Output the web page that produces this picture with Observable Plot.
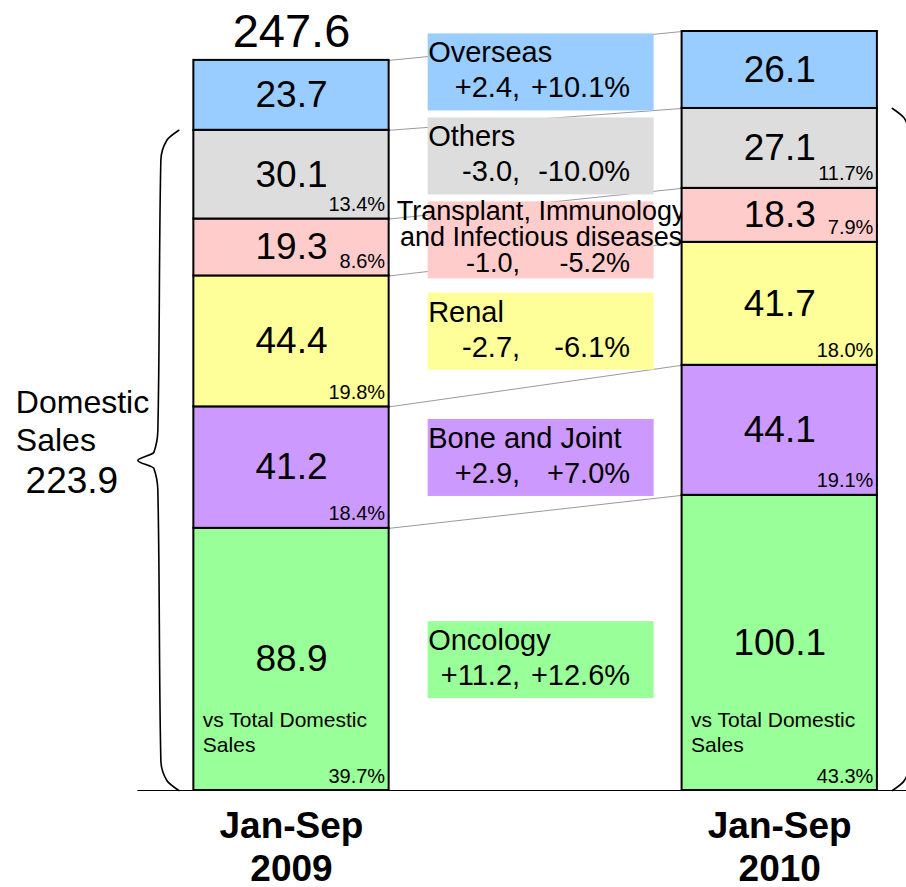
<!DOCTYPE html>
<html><head><meta charset="utf-8">
<script src="https://cdn.jsdelivr.net/npm/d3@7"></script>
<script src="https://cdn.jsdelivr.net/npm/@observablehq/plot@0.6"></script>
<style>
html,body{margin:0;padding:0;background:#fff;overflow:hidden;}
svg text{white-space:pre;}
</style></head><body><div id="chart"></div>
<script>
// ---------- data ----------
const periods = ["Jan-Sep\n2009", "Jan-Sep\n2010"];
const categories = ["Oncology", "Bone and Joint", "Renal",
  "Transplant, Immunology\nand Infectious diseases", "Others", "Overseas"];
const sales2009 = [88.9, 41.2, 44.4, 19.3, 30.1, 23.7];
const sales2010 = [100.1, 44.1, 41.7, 18.3, 27.1, 26.1];
const share2009 = [39.7, 18.4, 19.8, 8.6, 13.4, null];
const share2010 = [43.3, 19.1, 18.0, 7.9, 11.7, null];
const changeAbs = [11.2, 2.9, -2.7, -1.0, -3.0, 2.4];
const changePct = [12.6, 7.0, -6.1, -5.2, -10.0, 10.1];
const totalLabel2009 = 247.6;
const domestic2009 = 223.9;
const domesticText = "Domestic\nSales";
const noteText = "vs Total Domestic\nSales";

// ---------- styles / layout ----------
const colors = ["#99FF99", "#CC99FF", "#FFFF99", "#FFCCCC", "#DDDDDD", "#99CCFF"];
const W = 906, H = 887;
const XR = [291, 779.25];
const YR = [790, 31];
const series = [sales2009, sales2010];
const shares = [share2009, share2010];
const totals = series.map(s => d3.sum(s));
const domestic = series.map(s => d3.sum(s.slice(0, 5)));
const yMax = d3.max(totals);
const PXX = XR[1] - XR[0];
const PXY = (YR[0] - YR[1]) / yMax;
const HALF = 0.2;
const fmt1 = v => v.toFixed(1);
const signed = v => (v > 0 ? "+" : "-") + Math.abs(v).toFixed(1);

// stacked segments
const segs = [];
const cums = [];
series.forEach((vals, p) => {
  let acc = 0; const c = [0];
  vals.forEach((v, i) => {
    segs.push({p, i, value: v, y1: acc, y2: acc + v, share: shares[p][i],
      x1: p - HALF, x2: p + HALF, fill: colors[i]});
    acc += v; c.push(acc);
  });
  cums.push(c);
});

// connector lines between the bars
const links = d3.range(1, categories.length + 1).map(k => ({
  x1: HALF, x2: 1 - HALF, y1: cums[0][k], y2: cums[1][k]}));

// annotation boxes between the bars
const BOX_L = HALF + 39 / PXX, BOX_R = 1 - HALF - 28 / PXX;
const BOX_H = 77 / PXY, BOX_S = 84 / PXY, BOX_SHIFT = 9 / PXY;
const centers = categories.map((_, i) => {
  const m0 = (cums[0][i] + cums[0][i + 1]) / 2;
  const m1 = (cums[1][i] + cums[1][i + 1]) / 2;
  return (m0 + m1) / 2 - BOX_SHIFT;
});
for (let i = 1; i < centers.length; i++) centers[i] = Math.max(centers[i], centers[i - 1] + BOX_S);
const boxes = categories.map((name, i) => ({
  name, i, cy: centers[i], x1: BOX_L, x2: BOX_R,
  y1: centers[i] - BOX_H / 2, y2: centers[i] + BOX_H / 2, fill: colors[i],
  multi: name.includes("\n"),
  abs: signed(changeAbs[i]) + ",", pct: signed(changePct[i]) + "%"}));
const simpleBoxes = boxes.filter(b => !b.multi);
const multiBoxes = boxes.filter(b => b.multi);

// braces for domestic sales
function brace(p) {
  const side = p === 0 ? -1 : 1;
  const x0 = p + side * HALF + side * 15 / PXX;
  const top = domestic[p], mid = domestic[p] / 2;
  const pts = [[0, top, 0], [12, top, 10], [18, top, 30], [21, mid, -30], [25, mid, -8],
    [41, mid, 0], [25, mid, 8], [21, mid, 30], [18, 0, -30], [12, 0, -10], [0, 0, 0]];
  return pts.map(([u, base, dpx]) => ({p, x: x0 + side * u / PXX, y: base - dpx / PXY}));
}
const braces = [...brace(0), ...brace(1)];
const tipX = -HALF - (15 + 41) / PXX;

const fontFamily = "'Liberation Sans', Arial, Helvetica, sans-serif";

const chart = Plot.plot({
  width: W, height: H, margin: 0,
  x: {type: "linear", domain: [0, 1], range: XR, axis: null},
  y: {domain: [0, yMax], range: YR, axis: null},
  style: {fontFamily, background: "white", overflow: "hidden"},
  marks: [
    Plot.link(links, {x1: "x1", y1: "y1", x2: "x2", y2: "y2", stroke: "#9a9a9a", strokeWidth: 1}),
    Plot.rect(boxes, {x1: "x1", x2: "x2", y1: "y1", y2: "y2", fill: "fill"}),
    Plot.text(simpleBoxes, {x: "x1", y: "cy", text: "name", textAnchor: "start", lineAnchor: "bottom", dy: -10, fontSize: 29}),
    Plot.text(simpleBoxes, {x: d => d.x2 - 134 / PXX, y: "cy", text: "abs", textAnchor: "end", lineAnchor: "bottom", dy: 25, fontSize: 29}),
    Plot.text(simpleBoxes, {x: d => d.x2 - 24 / PXX, y: "cy", text: "pct", textAnchor: "end", lineAnchor: "bottom", dy: 25, fontSize: 29}),
    Plot.text(multiBoxes, {x: d => (d.x1 + d.x2) / 2, y: "cy", text: "name", textAnchor: "middle", lineAnchor: "bottom", dy: 6, lineHeight: 26 / 27, fontSize: 27}),
    Plot.text(multiBoxes, {x: d => d.x2 - 134 / PXX, y: "cy", text: "abs", textAnchor: "end", lineAnchor: "bottom", dy: 32, fontSize: 27}),
    Plot.text(multiBoxes, {x: d => d.x2 - 24 / PXX, y: "cy", text: "pct", textAnchor: "end", lineAnchor: "bottom", dy: 32, fontSize: 27}),
    Plot.rect(segs, {x1: "x1", x2: "x2", y1: "y1", y2: "y2", fill: "fill", stroke: "black", strokeWidth: 2}),
    Plot.text(segs, {x: "p", y: d => (d.y1 + d.y2) / 2, text: d => fmt1(d.value), fontSize: 37, lineAnchor: "middle"}),
    Plot.text(segs.filter(d => d.share != null), {x: d => d.x2 - 4 / PXX, y: "y1", text: d => fmt1(d.share) + "%", textAnchor: "end", lineAnchor: "bottom", dy: -8, fontSize: 20}),
    Plot.text(segs.filter(d => d.i === 0), {x: d => d.x1 + 9 / PXX, y: "y1", text: () => noteText, textAnchor: "start", lineAnchor: "bottom", dy: -39, lineHeight: 25 / 21, fontSize: 21}),
    Plot.text([totalLabel2009], {x: 0, y: d => d, text: d => fmt1(d), lineAnchor: "bottom", dy: -13, fontSize: 47}),
    Plot.ruleY([0], {x1: tipX, x2: (W - XR[0]) / PXX + 0.1, stroke: "black", strokeWidth: 1.2}),
    Plot.line(braces, {x: "x", y: "y", z: "p", curve: "monotone-y", stroke: "black", strokeWidth: 1.6}),
    Plot.text([domesticText], {x: tipX - 122 / PXX, y: domestic[0] / 2, text: d => d, textAnchor: "start", lineAnchor: "bottom", dy: -9, lineHeight: 38 / 32, fontSize: 32}),
    Plot.text([domestic2009], {x: tipX - 66 / PXX, y: domestic[0] / 2, text: d => fmt1(d), textAnchor: "middle", lineAnchor: "bottom", dy: 33, fontSize: 37}),
    Plot.text(periods, {x: (d, i) => i, y: () => 0, text: d => d, lineAnchor: "bottom", dy: 90, lineHeight: 43 / 37, fontSize: 37, fontWeight: "bold"})
  ]
});
document.getElementById("chart").appendChild(chart);
</script>
</body></html>
